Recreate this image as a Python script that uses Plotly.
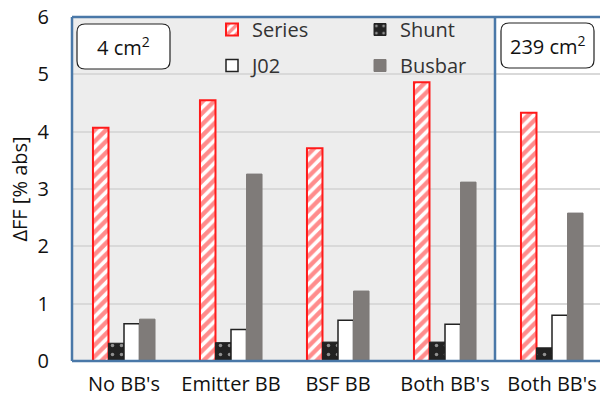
import plotly.graph_objects as go

categories = ["No BB's", "Emitter BB", "BSF BB", "Both BB's", "Both BB's"]
series_vals = [4.07, 4.55, 3.71, 4.86, 4.33]
shunt_vals = [0.31, 0.32, 0.33, 0.33, 0.23]
j02_vals = [0.65, 0.55, 0.71, 0.64, 0.80]
busbar_vals = [0.73, 3.26, 1.22, 3.12, 2.58]
y_ticks = [0, 1, 2, 3, 4, 5, 6]

W, H = 600, 402
# plot area in page pixel coordinates
L, R, T, B = 72, 600, 17, 361
FONT = "Open Sans"
FS = 20


def px(x):
    return (x - L) / (R - L)


def py(y):
    return (B - y) / (B - T)


xpos = list(range(len(categories)))

fig = go.Figure()
fig.add_bar(x=xpos, y=series_vals, name="Series",
            marker=dict(color="white", line=dict(color="#FF1A1A", width=2),
                        pattern=dict(shape="/", fgcolor="#FF1A1A", bgcolor="white", size=8, solidity=0.55)),
            legend="legend")
fig.add_bar(x=xpos, y=shunt_vals, name="Shunt",
            marker=dict(color="#222222", line=dict(color="#222222", width=1),
                        pattern=dict(shape=".", fgcolor="white", bgcolor="#222222", size=9, solidity=0.12)),
            legend="legend")
fig.add_bar(x=xpos, y=j02_vals, name="J02",
            marker=dict(color="white", line=dict(color="#222222", width=1.5)),
            legend="legend2")
fig.add_bar(x=xpos, y=busbar_vals, name="Busbar",
            marker=dict(color="#7F7B79", line=dict(color="#7F7B79", width=1)),
            legend="legend2")

shapes = []
shapes.append(dict(type="rect", xref="paper", yref="paper", x0=0, x1=px(495), y0=0, y1=1,
                   fillcolor="#EDEDED", line=dict(width=0), layer="below"))
blue = "#4A78A8"
for (x0, y0, x1, y1) in [(0, 0, 0, 1), (0, 1, 1, 1), (0, 0, 1, 0), (px(495), 0, px(495), 1)]:
    shapes.append(dict(type="line", xref="paper", yref="paper", x0=x0, y0=y0, x1=x1, y1=y1,
                       line=dict(color=blue, width=2.5), layer="above"))


def rounded(x0, y0, x1, y1, r=8):
    X0, X1 = px(x0), px(x1)
    Y0, Y1 = py(y0), py(y1)
    rx, ry = r / (R - L), r / (B - T)
    return (f"M {X0+rx},{Y0} L {X1-rx},{Y0} Q {X1},{Y0} {X1},{Y0-ry} "
            f"L {X1},{Y1+ry} Q {X1},{Y1} {X1-rx},{Y1} L {X0+rx},{Y1} "
            f"Q {X0},{Y1} {X0},{Y1+ry} L {X0},{Y0-ry} Q {X0},{Y0} {X0+rx},{Y0} Z")


for box in [(77, 24, 170, 69), (501, 23, 594, 68)]:
    shapes.append(dict(type="path", xref="paper", yref="paper", path=rounded(*box),
                       fillcolor="white", line=dict(color="#222222", width=1.2), layer="above"))

annotations = [
    dict(text="4 cm<sup>2</sup>", x=px(123.5), y=py(46.5), xref="paper", yref="paper",
         xanchor="center", yanchor="middle",
         showarrow=False, font=dict(family=FONT, size=FS, color="#111111")),
    dict(text="239 cm<sup>2</sup>", x=px(547.5), y=py(45.5), xref="paper", yref="paper",
         xanchor="center", yanchor="middle",
         showarrow=False, font=dict(family=FONT, size=FS, color="#111111")),
]

fig.update_layout(
    width=W, height=H,
    margin=dict(l=L, r=W - R, t=T, b=H - B, pad=0, autoexpand=False),
    paper_bgcolor="white", plot_bgcolor="rgba(0,0,0,0)",
    barmode="group", bargap=0.42, bargroupgap=0,
    font=dict(family=FONT, size=FS, color="#111111"),
    shapes=shapes, annotations=annotations,
    legend=dict(orientation="h", x=px(212), y=py(10), xanchor="left", yanchor="top",
                entrywidth=103, bgcolor="rgba(0,0,0,0)", font=dict(size=FS, color="#333333"),
                itemwidth=30, traceorder="normal"),
    legend2=dict(orientation="h", x=px(212), y=py(46), xanchor="left", yanchor="top",
                 entrywidth=103, bgcolor="rgba(0,0,0,0)", font=dict(size=FS, color="#333333"),
                 itemwidth=30, traceorder="normal"),
)
fig.update_xaxes(range=[(L - 124) / 107, (R - 124) / 107], tickvals=xpos, ticktext=categories,
                 showgrid=False, zeroline=False, showline=False, ticks="", ticklabelstandoff=9,
                 automargin=False, tickfont=dict(size=FS, color="#111111"))
fig.update_yaxes(range=[0, 6], tickvals=y_ticks, showgrid=True, gridcolor="#D9D9D9", gridwidth=1.5,
                 zeroline=False, showline=False, ticks="", ticklabelstandoff=22, automargin=False,
                 ticklabeloverflow="allow",
                 tickfont=dict(size=FS, color="#111111"),
                 title=dict(text="ΔFF [% abs]", font=dict(size=FS, color="#111111"), standoff=4))

fig.write_html("out.html", config={"displayModeBar": False},
               post_script="document.body.style.margin='0';document.body.style.overflow='hidden';")
